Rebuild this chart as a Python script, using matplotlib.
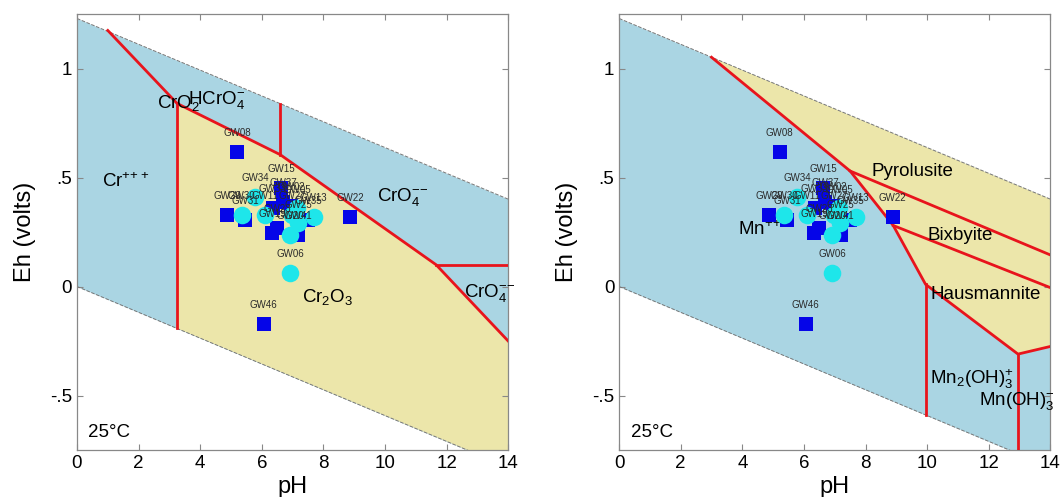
import numpy as np
import matplotlib.pyplot as plt

plt.rcParams['font.family'] = ['Liberation Sans', 'DejaVu Sans']
plt.rcParams['mathtext.fontset'] = 'custom'
plt.rcParams['mathtext.rm'] = 'Liberation Sans'
plt.rcParams['mathtext.it'] = 'Liberation Sans:italic'
plt.rcParams['mathtext.bf'] = 'Liberation Sans:bold'

# groundwater samples (same on both diagrams)
sq_names = ['GW08', 'GW22', 'GW46', 'GW15', 'GW29', 'GW31', 'GW19', 'GW41',
            'GW35', 'GW37', 'GW33', 'GW02', 'GW23']
sq_ph = [5.21, 8.88, 6.06, 6.62, 4.87, 5.46, 6.33, 7.19, 7.51, 6.70, 6.35, 6.95, 6.50]
sq_eh = [0.618, 0.321, -0.17, 0.451, 0.329, 0.306, 0.245, 0.237, 0.306, 0.39, 0.36, 0.37, 0.27]

ci_names = ['GW06', 'GW34', 'GW30', 'GW11', 'GW27', 'GW05', 'GW13', 'GW20', 'GW25']
ci_ph = [6.92, 5.79, 5.35, 6.11, 6.98, 7.14, 7.68, 6.92, 7.18]
ci_eh = [0.063, 0.412, 0.329, 0.329, 0.329, 0.359, 0.321, 0.237, 0.29]

# water stability limits
water_ph = [0.0, 14.0]
water_top = [1.23, 0.401]
water_bot = [0.0, -0.829]

# Cr diagram
cr_line_ph = [1.0, 3.25, 6.6, 11.66, 14.0]
cr_line_eh = [1.175, 0.84, 0.605, 0.10, -0.25]
cr_wall_ph = 3.25      # Cr+++ / Cr2O3
cr_hcro4_ph = 6.6      # HCrO4- / CrO4--
cr_flat_eh = 0.10      # CrO4-- upper / lower

# Mn diagram
mn_line_ph = [3.0, 7.5, 8.9, 9.95, 12.95, 14.0]
mn_line_eh = [1.052, 0.53, 0.28, 0.01, -0.31, -0.275]
mn_pyro_ph = [7.5, 14.0]
mn_pyro_eh = [0.53, 0.145]
mn_bix_ph = [8.9, 14.0]
mn_bix_eh = [0.28, -0.005]
mn_wall1_ph = 9.95
mn_wall2_ph = 12.95

BLUE_BG = '#aad5e3'
YELLOW = '#ece6aa'
RED = '#e8141c'


def water(ph):
    return np.interp(ph, water_ph, water_top), np.interp(ph, water_ph, water_bot)


def base_axes(ax):
    ph = np.array(water_ph)
    ax.fill_between(ph, water_bot, water_top, color=BLUE_BG, lw=0, zorder=0)
    ax.plot(water_ph, water_top, '--', color='#777777', lw=0.7, zorder=2)
    ax.plot(water_ph, water_bot, '--', color='#777777', lw=0.7, zorder=2)
    ax.set_xlim(0, 14)
    ax.set_ylim(-0.75, 1.25)
    ax.set_xticks([0, 2, 4, 6, 8, 10, 12, 14])
    ax.set_yticks([-0.5, 0, 0.5, 1])
    ax.set_yticklabels(['-.5', '0', '.5', '1'])
    ax.tick_params(direction='in', top=True, right=True, length=4,
                   color='#888888', labelsize=13.5)
    for s in ax.spines.values():
        s.set_color('#888888')
        s.set_linewidth(0.9)
    ax.set_xlabel('pH', fontsize=17, labelpad=3)
    ax.set_ylabel('Eh (volts)', fontsize=17, labelpad=10)
    ax.text(0.37, -0.67, '25°C', fontsize=13.5, va='center', zorder=4)


def samples(ax):
    ax.scatter(sq_ph, sq_eh, marker='s', s=115, color='#0505e8', lw=0, zorder=5)
    ax.scatter(ci_ph, ci_eh, marker='o', s=160, color='#1ee6ea', lw=0, zorder=6)
    for n, x, y in list(zip(sq_names, sq_ph, sq_eh)) + list(zip(ci_names, ci_ph, ci_eh)):
        ax.annotate(n, (x, y), xytext=(0, 13.5), textcoords='offset points',
                    ha='center', va='center', fontsize=7, color='#2a2a2a', zorder=7)


fig = plt.figure(figsize=(10.62, 4.97), dpi=100)
ax1 = fig.add_axes([0.0725, 0.0946, 0.406, 0.877])
ax2 = fig.add_axes([0.583, 0.0946, 0.406, 0.877])

# ---- Cr panel ----
base_axes(ax1)
wt, wb = water(cr_wall_ph)
poly_x = [cr_wall_ph] + cr_line_ph[1:] + [14.0, cr_wall_ph]
poly_y = [wb] + cr_line_eh[1:] + [water_bot[1], wb]
ax1.fill(poly_x, poly_y, color=YELLOW, lw=0, zorder=1)
ax1.plot(cr_line_ph, cr_line_eh, color=RED, lw=2, zorder=3)
ax1.plot([cr_wall_ph, cr_wall_ph], [wb, cr_line_eh[1]], color=RED, lw=2, zorder=3)
top_h, _ = water(cr_hcro4_ph)
ax1.plot([cr_hcro4_ph, cr_hcro4_ph], [np.interp(cr_hcro4_ph, cr_line_ph, cr_line_eh), top_h],
         color=RED, lw=2, zorder=3)
ax1.plot([cr_line_ph[3], 14.0], [cr_flat_eh, cr_flat_eh], color=RED, lw=2, zorder=3)

lab = dict(fontsize=13.5, va='center', ha='left', zorder=4)
ax1.text(0.8, 0.48, r'Cr$^{+\!+\!+}$', **lab)
ax1.text(2.6, 0.84, r'CrO$_2$', **lab)
ax1.text(3.6, 0.855, r'HCrO$_4^{-}$', **lab)
ax1.text(9.75, 0.41, r'CrO$_4^{-\!-}$', **lab)
ax1.text(12.55, -0.03, r'CrO$_4^{-\!-}$', **lab)
ax1.text(7.3, -0.05, r'Cr$_2$O$_3$', **lab)
samples(ax1)

# ---- Mn panel ----
base_axes(ax2)
poly_x = mn_line_ph + [14.0, mn_line_ph[0]]
poly_y = mn_line_eh + [water_top[1], mn_line_eh[0]]
ax2.fill(poly_x, poly_y, color=YELLOW, lw=0, zorder=1)
ax2.plot(mn_line_ph, mn_line_eh, color=RED, lw=2, zorder=3)
ax2.plot(mn_pyro_ph, mn_pyro_eh, color=RED, lw=2, zorder=3)
ax2.plot(mn_bix_ph, mn_bix_eh, color=RED, lw=2, zorder=3)
_, wb = water(mn_wall1_ph)
ax2.plot([mn_wall1_ph, mn_wall1_ph], [mn_line_eh[3], wb], color=RED, lw=2, zorder=3)
ax2.plot([mn_wall2_ph, mn_wall2_ph], [mn_line_eh[4], -0.8], color=RED, lw=2, zorder=3)

ax2.text(8.2, 0.53, 'Pyrolusite', **lab)
ax2.text(10.0, 0.235, 'Bixbyite', **lab)
ax2.text(10.1, -0.035, 'Hausmannite', **lab)
ax2.text(3.85, 0.26, r'Mn$^{+\!+}$', **lab)
ax2.text(10.1, -0.425, r'Mn$_2$(OH)$_3^{+}$', **lab)
ax2.text(11.7, -0.525, r'Mn(OH)$_3^{-}$', **lab)
samples(ax2)

fig.savefig('out.png', dpi=100)
